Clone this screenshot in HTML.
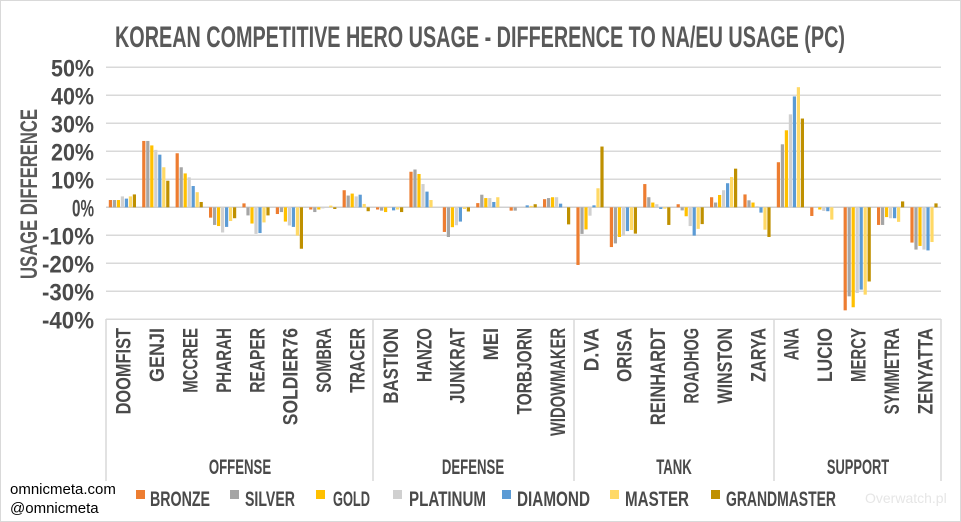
<!DOCTYPE html>
<html><head><meta charset="utf-8"><style>
html,body{margin:0;padding:0;background:#fff}
svg{display:block}
text{font-family:"Liberation Sans Narrow","Liberation Sans",sans-serif;font-weight:bold;fill:#595959}
</style></head><body>
<svg id="s" width="961" height="522" viewBox="0 0 961 522" xmlns="http://www.w3.org/2000/svg">
<rect x="0.5" y="0.5" width="960" height="521" fill="#fff" stroke="#d9d9d9"/>
<text x="115" y="47" font-size="30" textLength="730" lengthAdjust="spacingAndGlyphs">KOREAN COMPETITIVE HERO USAGE - DIFFERENCE TO NA/EU USAGE (PC)</text>
<text transform="translate(37,279) rotate(-90)" font-size="24" textLength="170" lengthAdjust="spacingAndGlyphs">USAGE DIFFERENCE</text>
<g id="grid"></g>
<g id="bars"></g>
<g id="labels"></g>
<text x="10" y="494" font-size="15" style="font-family:'Liberation Sans',sans-serif;font-weight:normal;fill:#000">omnicmeta.com</text>
<text x="10" y="513" font-size="15" style="font-family:'Liberation Sans',sans-serif;font-weight:normal;fill:#000">@omnicmeta</text>
<text x="865" y="503" font-size="14" style="font-family:'Liberation Sans',sans-serif;font-weight:normal;fill:#e6e6e6">Overwatch.pl</text>
<g id="legend"></g>
</svg>
<script>
var NS="http://www.w3.org/2000/svg",s=document.getElementById('s');
function el(p,t,a,txt){var e=document.createElementNS(NS,t);for(var k in a)e.setAttribute(k,a[k]);if(txt)e.textContent=txt;document.getElementById(p).appendChild(e);return e;}
var Z=207.3,U=2.8,L=106,R=941,W=33.4;
for(var v=50;v>=-40;v-=10){var y=Z-v*U;
 el('grid','line',{x1:L,x2:R,y1:y,y2:y,stroke:v==0?'#d0d0d0':'#d9d9d9','stroke-width':1.5});
 el('grid','text',{x:94,y:y+9,'text-anchor':'end','font-size':24,textLength:v<0?52:(v==0?22:43),lengthAdjust:'spacingAndGlyphs',style:'fill:#4a4a4a'},v+'%');}
var seps=[L,373,574,774,R];
seps.forEach(function(x){el('grid','line',{x1:x,x2:x,y1:319,y2:481,stroke:'#d9d9d9','stroke-width':1.5});});
var C=['#ED7D31','#A5A5A5','#FFC000','#D0D0D0','#5B9BD5','#FFD966','#BF9000'];
var H=['DOOMFIST','GENJI','MCCREE','PHARAH','REAPER','SOLDIER76','SOMBRA','TRACER','BASTION','HANZO','JUNKRAT','MEI','TORBJORN','WIDOWMAKER','D.VA','ORISA','REINHARDT','ROADHOG','WINSTON','ZARYA','ANA','LUCIO','MERCY','SYMMETRA','ZENYATTA'];
var D=[[2.6,2.6,2.6,3.9,3.1,3.9,4.6],[23.7,23.7,22.1,20.5,18.8,14.3,9.5],[19.3,14.3,12.1,10.7,7.6,5.4,1.9],[-3.7,-6.3,-6.7,-9,-7,-4.9,-3.9],[1.4,-2.9,-5.8,-9.5,-9.2,-5.4,-2.9],[-2.4,-1.7,-5.1,-6.5,-7,-10.1,-14.8],[-0.8,-1.7,-0.8,-0.4,0,0.6,-0.6],[6.1,4.2,4.9,3.9,4.5,1.2,-1.4],
[-0.8,-1.2,-1.7,-0.2,-1.1,-0.8,-1.7],[12.7,13.5,11.9,8.3,5.6,2.6,0],[-8.8,-10.6,-7.1,-6.4,-5.1,-0.6,-1.5],[1.5,4.5,3.3,3.3,1.9,3.6,0],[-1.2,-1.2,0,0.2,0.7,0.5,1.1],[2.9,3.3,3.6,3.6,1.3,0,-6.1],
[-20.6,-9.5,-7.9,-3,0.7,6.8,21.7],[-14.2,-12.9,-10.6,-10.1,-8.5,-8.1,-9.4],[8.3,3.6,1.7,1.1,-0.6,-0.5,-6.3],[1.1,-1.1,-3.2,-6.7,-10.1,-7.7,-6],[3.6,1.7,4.4,6.1,8.6,10.8,13.8],[4.6,2.5,1.7,0.4,-1.9,-8,-10.6],
[16.1,22.5,27.5,33.2,39.6,42.9,31.7],[-3.1,0,-0.8,-1.3,-1.4,-4.4,0],[-36.8,-31.8,-35.7,-30.6,-29.4,-31.2,-26.5],[-6.3,-6.3,-3.5,-3.9,-3.9,-5.2,2.1],[-12.6,-15.1,-13.8,-15.1,-15.4,-12.4,1.4]];
D.forEach(function(r,i){var x0=L+i*W+2.8;
 r.forEach(function(v,j){if(!v)return;var h=Math.abs(v)*U;el('bars','rect',{x:x0+j*4,y:v>0?Z-h:Z,width:3.2,height:h,fill:C[j]});});
 var cx=L+i*W+W/2+8;
 el('labels','text',{transform:'translate('+cx+',328) rotate(-90)','text-anchor':'end','font-size':21,textLength:H[i].length*10.8,lengthAdjust:'spacingAndGlyphs',style:'fill:#4a4a4a'},H[i]);});
[['OFFENSE',240],['DEFENSE',473],['TANK',674],['SUPPORT',858]].forEach(function(g){
 el('labels','text',{x:g[1],y:474,'text-anchor':'middle','font-size':21,textLength:g[0].length*8.9,lengthAdjust:'spacingAndGlyphs',style:'fill:#4a4a4a'},g[0]);});
var LG=[['BRONZE',136,150,60],['SILVER',230,245,50],['GOLD',316,333,37],['PLATINUM',393,409,77],['DIAMOND',502,517,73],['MASTER',610,625,64],['GRANDMASTER',711,726,110]];
LG.forEach(function(l,j){el('legend','rect',{x:l[1],y:490,width:9,height:9,fill:C[j]});
 el('legend','text',{x:l[2],y:506,'font-size':21,textLength:l[3],lengthAdjust:'spacingAndGlyphs',style:'fill:#4a4a4a'},l[0]);});
</script>
</body></html>
